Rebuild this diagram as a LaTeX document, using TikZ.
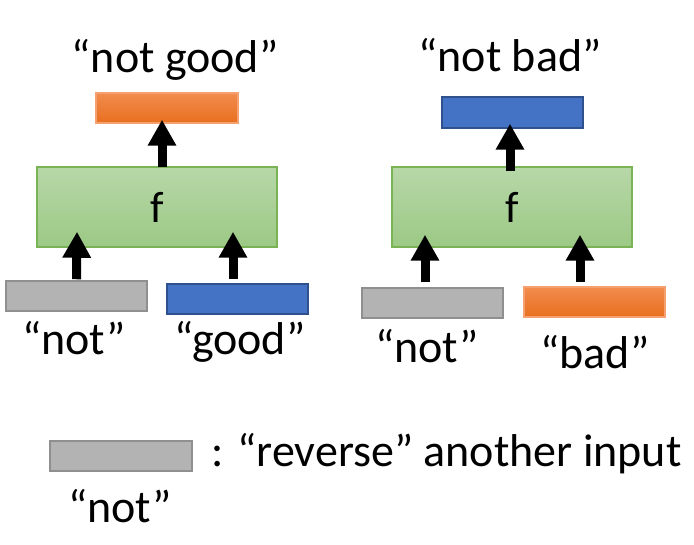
\documentclass[tikz,border=0pt]{standalone}
\usepackage{fontspec}
\setmainfont{Carlito}
\usetikzlibrary{arrows.meta}
\definecolor{grfill}{HTML}{B3B3B3}
\definecolor{grline}{HTML}{8F8F8F}
\definecolor{bfill}{HTML}{4472C4}
\definecolor{bline}{HTML}{2F528F}
\definecolor{otop}{HTML}{F28C4E}
\definecolor{obot}{HTML}{E86F1F}
\definecolor{oline}{HTML}{F4A070}
\definecolor{gtop}{HTML}{B7D7A8}
\definecolor{gbot}{HTML}{9CC985}
\definecolor{gline}{HTML}{7AB356}
\tikzset{
  box/.style={rectangle, inner sep=0pt, line width=1.5pt, minimum height=30pt, minimum width=141pt},
  graybox/.style={box, fill=grfill, draw=grline},
  bluebox/.style={box, fill=bfill, draw=bline},
  orangebox/.style={box, top color=otop, bottom color=obot, draw=oline},
  greenbox/.style={box, top color=gtop, bottom color=gbot, draw=gline, minimum width=240pt, minimum height=80pt},
  lbl/.style={anchor=base, inner sep=0pt, font=\fontsize{46}{50}\selectfont},
  arr/.style={line width=9pt, -{Triangle[width=27pt,length=26pt]}},
}
\begin{document}
\begin{tikzpicture}[x=1pt,y=-1pt]
\useasboundingbox (0,0) rectangle (694,545);
% left panel
\node[orangebox, minimum width=142pt] (o1) at (167,108) {};
\node[greenbox] (g1) at (157,207) {};
\node[inner sep=0pt, font=\fontsize{44}{48}\selectfont] (f1) at (157,207) {f};
\node[graybox] (gr1) at (76.5,296) {};
\node[bluebox] (b1) at (237.5,299) {};
\node[lbl] (t1) at (175,73) {“not good”};
\node[lbl] (n1) at (74,355) {“not”};
\node[lbl] (w1) at (240,355) {“good”};
\draw[arr] ([xshift=5pt,yshift=-1pt]g1.north) -- ([xshift=-5pt,yshift=4pt]o1.south);
\draw[arr] ([yshift=1pt]gr1.north) -- ([xshift=-80pt,yshift=16pt]g1.south);
\draw[arr] ([xshift=-4.5pt,yshift=4pt]b1.north) -- ([xshift=76pt,yshift=16pt]g1.south);
% right panel
\node[bluebox, minimum height=31pt] (b2) at (512.5,112.5) {};
\node[greenbox] (g2) at (512,207) {};
\node[inner sep=0pt, font=\fontsize{44}{48}\selectfont] (f2) at (512,207) {f};
\node[graybox] (gr2) at (432.5,303) {};
\node[orangebox] (o2) at (594.5,302) {};
\node[lbl] (t2) at (510,72) {“not bad”};
\node[lbl] (n2) at (427,363) {“not”};
\node[lbl] (w2) at (595,369) {“bad”};
\draw[arr] ([xshift=-2pt,yshift=-5pt]g2.north) -- ([xshift=-2.5pt,yshift=5pt]b2.south);
\draw[arr] ([xshift=-7.5pt,yshift=5pt]gr2.north) -- ([xshift=-87pt,yshift=13pt]g2.south);
\draw[arr] ([xshift=-14.5pt,yshift=4pt]o2.north) -- ([xshift=68pt,yshift=13pt]g2.south);
% legend
\node[graybox, minimum width=142pt] (lg) at (121,456) {};
\node[lbl] (ln) at (120,522) {“not”};
\node[lbl, anchor=base west] (lt) at (211,467) {: “reverse” another input};
\end{tikzpicture}
\end{document}
